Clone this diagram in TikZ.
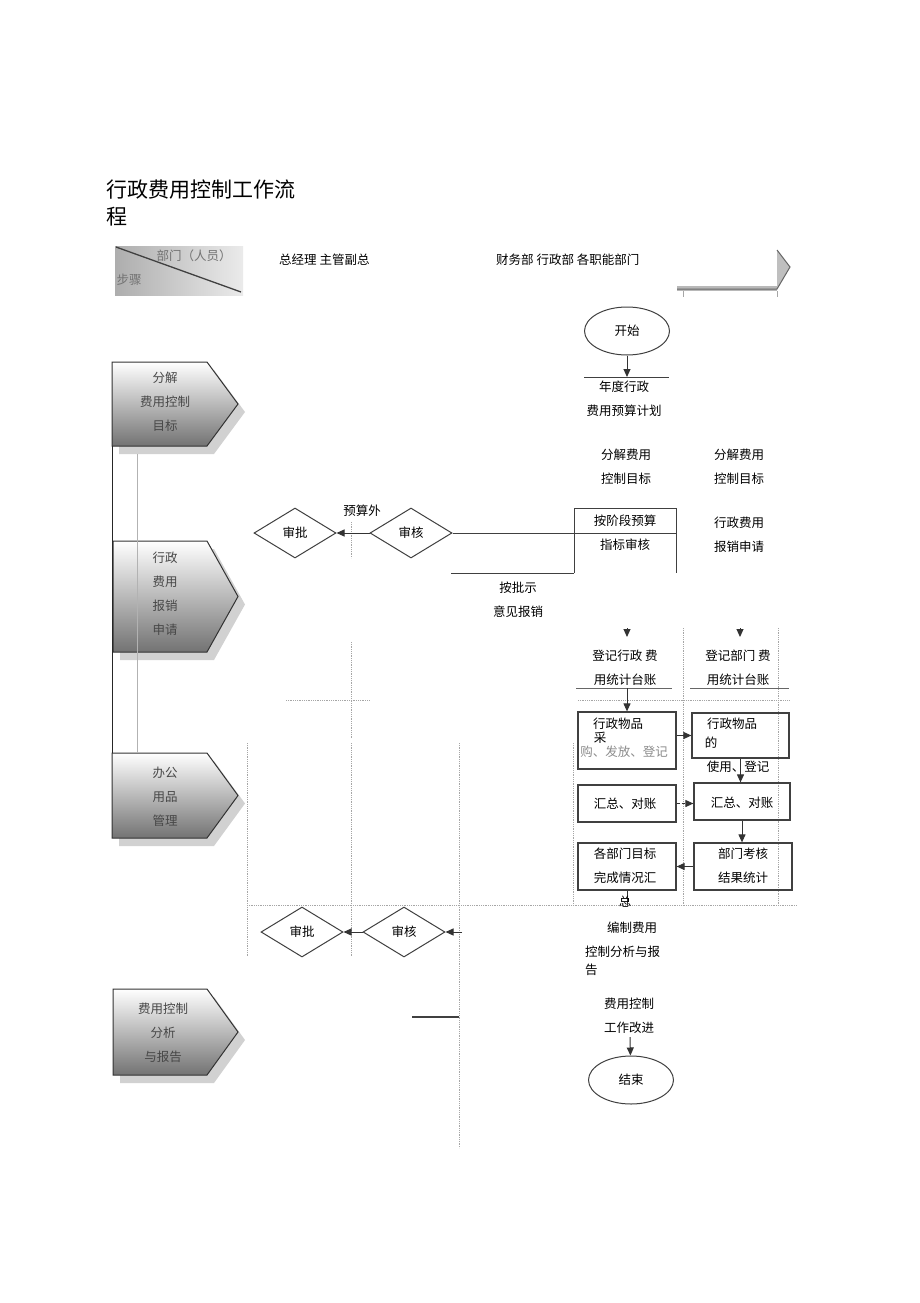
\documentclass[tikz,border=0pt]{standalone}
\usepackage{fontspec}
\setmainfont{Noto Sans CJK SC}
\usetikzlibrary{arrows.meta,shapes.geometric}

\tikzset{
  txt/.style={font=\fontsize{12.5}{24}\selectfont, inner sep=0pt, align=center},
  steptxt/.style={txt, text=black!72},
  decision/.style={diamond, draw=black!75, line width=1pt, minimum width=82pt, minimum height=50pt, inner sep=0pt, font=\fontsize{12.5}{14}\selectfont},
  terminal/.style={ellipse, draw=black!75, line width=1pt, minimum width=85pt, minimum height=48pt, inner sep=0pt, font=\fontsize{12.5}{14}\selectfont},
  procbox/.style={draw=black!75, line width=1.2pt, inner sep=0pt},
  guide/.style={draw=black!35, densely dotted, line width=0.8pt},
  flow/.style={draw=black!80, line width=1pt, -{Triangle[length=8pt,width=7pt]}},
  stepshade/.style={top color=white, bottom color=black!55, draw=black!80, line width=1pt},
  stepshadow/.style={fill=black!18}
}

\begin{document}
\begin{tikzpicture}[x=1pt,y=-1pt]
\useasboundingbox (0,0) rectangle (920,1303);
\fill[white] (0,0) rectangle (920,1303);

\node[txt, font=\fontsize{21}{24}\selectfont, anchor=west] (title1) at (106,190) {行政费用控制工作流};
\node[txt, font=\fontsize{21}{24}\selectfont, anchor=west] (title2) at (106,217) {程};

\shade[left color=black!32, right color=black!8] (115,246) rectangle (243,295);
\draw[black!75, line width=1.3pt] (116,247) -- (241,292);
\node[txt, text=black!55] (dept) at (194,256) {部门（人员）};
\node[txt, text=black!55] (steps) at (129,280) {步骤};
\node[txt, anchor=west] (boss) at (279,260) {总经理 主管副总};
\node[txt, anchor=west] (units) at (496,260) {财务部 行政部 各职能部门};

\fill[black!28] (677,286) rectangle (777,291);
\fill[black!25] (777,250) -- (790,267) -- (777,289) -- cycle;
\draw[black!60, line width=1pt] (677,289) -- (777,289) -- (790,267) -- (777,250);
\draw[black!35] (683,291) -- (683,297);
\draw[black!35] (777,291) -- (777,297);

\fill[stepshadow, shift={(7,8)}] (112,362) -- (207,362) -- (238,404) -- (207,446) -- (112,446) -- cycle;
\shadedraw[stepshade] (112,362) -- (207,362) -- (238,404) -- (207,446) -- (112,446) -- cycle;
\node[steptxt] (s1) at (165,401.5) {分解\\费用控制\\目标};

\fill[stepshadow, shift={(7,8)}] (113,541) -- (207,541) -- (238,596.5) -- (207,652) -- (113,652) -- cycle;
\shadedraw[stepshade] (113,541) -- (207,541) -- (238,596.5) -- (207,652) -- (113,652) -- cycle;
\node[steptxt] (s2) at (165,593.5) {行政\\费用\\报销\\申请};

\fill[stepshadow, shift={(7,8)}] (112,753) -- (207,753) -- (238,795.5) -- (207,838) -- (112,838) -- cycle;
\shadedraw[stepshade] (112,753) -- (207,753) -- (238,795.5) -- (207,838) -- (112,838) -- cycle;
\node[steptxt] (s3) at (165,796.5) {办公\\用品\\管理};

\fill[stepshadow, shift={(7,8)}] (113,989) -- (207,989) -- (238,1032) -- (207,1075) -- (113,1075) -- cycle;
\shadedraw[stepshade] (113,989) -- (207,989) -- (238,1032) -- (207,1075) -- (113,1075) -- cycle;
\node[steptxt] (s4) at (163,1033) {费用控制\\分析\\与报告};

\draw[black!85, line width=1pt] (112,446) -- (112,753);
\draw[black!30, line width=0.6pt] (137,454) -- (137,753);

\draw[guide] (351,522) -- (351,558);
\draw[guide] (351,642) -- (351,738);
\draw[guide] (286,700) -- (369,700);
\draw[guide] (247,743) -- (247,957);
\draw[guide] (351,743) -- (351,957);
\draw[guide] (459,743) -- (459,1148);
\draw[guide] (573,743) -- (573,905);
\draw[guide] (683,628) -- (683,905);
\draw[guide] (778,628) -- (778,905);
\draw[guide] (578,700) -- (790,700);
\draw[guide] (247,905) -- (797,905);

\node[terminal] (start) at (627,331) {开始};
\coordinate (p1) at (584,377);
\coordinate (p2) at (669,377);
\draw[black!75, line width=0.8pt] (p1) -- (p2);
\draw[flow] (start) -- (start |- p1);
\node[txt] (plan) at (624,398.5) {年度行政\\费用预算计划};

\node[txt] (goal1) at (626,467) {分解费用\\控制目标};
\node[txt] (goal2) at (739,467) {分解费用\\控制目标};
\node[txt] (claim) at (739,534.5) {行政费用\\报销申请};

\node[decision] (appr1) at (295,533) {审批};
\node[decision] (rev1) at (411,533) {审核};
\draw[flow] (rev1) -- (appr1);
\node[txt] (extra) at (362,511) {预算外};

\draw[black!75, line width=0.8pt] (574,573) -- (574,508) -- (676,508) -- (676,573);
\coordinate (stg) at (676,533);
\draw[black!75, line width=0.8pt] (rev1.east) -- (stg);
\coordinate (rt1) at (451,573);
\coordinate (rt2) at (574,573);
\draw[black!75, line width=0.8pt] (rt1) -- (rt2);
\node[txt] (stage) at (625,533) {按阶段预算\\指标审核};
\node[txt] (pay) at (518,600) {按批示\\意见报销};

\coordinate (ah1) at (627,628);
\coordinate (ah2) at (740,628);
\draw[flow] (ah1) -- ++(0,9);
\draw[flow] (ah2) -- ++(0,9);

\node[txt] (led1) at (625,667.5) {登记行政 费\\用统计台账};
\node[txt] (led2) at (738,667.5) {登记部门 费\\用统计台账};
\coordinate (l1a) at (576,688);
\coordinate (l1b) at (672,688);
\coordinate (l2a) at (690,688);
\coordinate (l2b) at (789,688);
\draw[black!60, line width=0.6pt] (l1a) -- (l1b);
\draw[black!60, line width=0.6pt] (l2a) -- (l2b);

\node[procbox, minimum width=98pt, minimum height=57pt] (buy) at (627,740.5) {};
\node[procbox, minimum width=97pt, minimum height=45pt] (use) at (740.5,735.5) {};
\node[procbox, minimum width=98pt, minimum height=37pt] (sum1) at (627,803.5) {};
\node[procbox, minimum width=96pt, minimum height=37pt] (sum2) at (742,801.5) {};
\node[procbox, minimum width=98pt, minimum height=47pt] (chk) at (743,866.5) {};
\node[procbox, minimum width=98pt, minimum height=47pt] (tot) at (627,866.5) {};

\coordinate (l1m) at (627,688);
\draw[flow] (l1m) -- (buy.north);
\draw[flow] (buy.east |- use.west) -- (use.west);
\draw[flow] (use.south) -- (use.south |- sum2.north);
\draw[flow, densely dashed] (sum1.east) -- (sum1.east -| sum2.west);
\draw[flow] (sum2.south) -- (sum2.south |- chk.north);
\draw[flow] (chk.west) -- (tot.east);
\coordinate (fend) at (627,905);
\draw[black!80, line width=1pt] (tot.south) -- (fend);

\node[txt] (buy1) at (618,724) {行政物品};
\node[txt] (buy2) at (600,738) {采};
\node[txt, text=black!45] (buy3) at (624,752) {购、发放、登记};
\node[txt] (use1) at (732,724) {行政物品};
\node[txt] (use2) at (711,743) {的};
\node[txt] (use3) at (738,767) {使用、登记};
\node[txt] (sum1t) at (625,804) {汇总、对账};
\node[txt] (sum2t) at (742,803) {汇总、对账};
\node[txt] (chkt) at (743,866) {部门考核\\结果统计};
\node[txt] (tott) at (625,866) {各部门目标\\完成情况汇};
\node[txt] (tot3) at (625,902) {总};

\node[decision] (appr2) at (302,932) {审批};
\node[decision] (rev2) at (404,932) {审核};
\coordinate (rpt) at (462,932);
\draw[flow] (rpt) -- (rev2);
\draw[flow] (rev2) -- (appr2);

\node[txt] (rep1) at (632,928) {编制费用};
\node[txt, anchor=west] (rep2) at (585,952) {控制分析与报};
\node[txt, anchor=west] (rep3) at (585,970) {告};

\coordinate (tk1) at (412,1017);
\coordinate (tk2) at (459,1017);
\draw[black!75, line width=2pt] (tk1) -- (tk2);

\node[txt] (impr) at (629,1015.5) {费用控制\\工作改进};
\coordinate (imp) at (630,1037);
\node[terminal] (end) at (631,1080) {结束};
\draw[flow] (imp) -- (end);
\end{tikzpicture}
\end{document}
